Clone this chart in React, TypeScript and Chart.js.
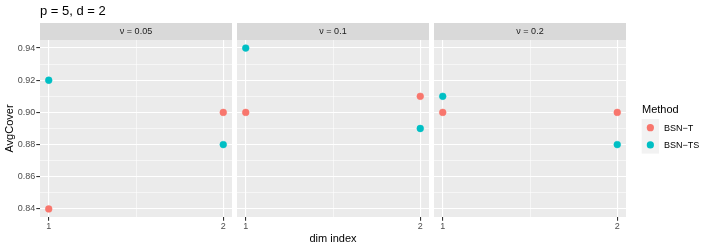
import React, { useEffect, useRef } from 'react';
import { Chart, registerables } from 'chart.js';

Chart.register(...registerables);

// ---- data ----
const DIM_INDEX = [1, 2];
const FACET_LABELS = ['ν = 0.05', 'ν = 0.1', 'ν = 0.2'];
const SERIES_NAMES = ['BSN−T', 'BSN−TS'];
const BSN_T_V005 = [0.84, 0.9];
const BSN_TS_V005 = [0.92, 0.88];
const BSN_T_V01 = [0.9, 0.91];
const BSN_TS_V01 = [0.94, 0.89];
const BSN_T_V02 = [0.9, 0.9];
const BSN_TS_V02 = [0.91, 0.88];
const Y_MAJOR_TICKS = [0.84, 0.86, 0.88, 0.9, 0.92, 0.94];
const Y_MINOR_TICKS = [0.85, 0.87, 0.89, 0.91, 0.93];
const X_MAJOR_TICKS = [1, 2];
const X_MINOR_TICKS = [1.5];

// ---- style ----
const FONT = "'Liberation Sans', Arial, Helvetica, sans-serif";
const COLORS = ['#F8766D', '#00BFC4'];
const PANEL_BG = '#EBEBEB';
const STRIP_BG = '#D9D9D9';
const W = 710;
const H = 249;
const PANEL_LEFTS = [40, 237, 434];
const PANEL_W = 192;
const PANEL_TOP = 40;
const PANEL_BOTTOM = 217;
const STRIP_TOP = 23;

const FACET_T = [BSN_T_V005, BSN_T_V01, BSN_T_V02];
const FACET_TS = [BSN_TS_V005, BSN_TS_V01, BSN_TS_V02];

const isIn = (arr: number[], v: number) => arr.some((a) => Math.abs(a - v) < 1e-9);

function makeConfig(i: number): any {
  const left = PANEL_LEFTS[i];
  const right = W - (left + PANEL_W);
  const first = i === 0;
  const last = i === PANEL_LEFTS.length - 1;

  const panelPlugin = {
    id: 'panel' + i,
    beforeDraw(chart: any) {
      const { ctx, chartArea } = chart;
      ctx.save();
      ctx.fillStyle = PANEL_BG;
      ctx.fillRect(chartArea.left, chartArea.top, chartArea.right - chartArea.left, chartArea.bottom - chartArea.top);
      ctx.restore();
    },
    afterDraw(chart: any) {
      const { ctx, chartArea } = chart;
      ctx.save();
      // strip
      ctx.fillStyle = STRIP_BG;
      ctx.fillRect(chartArea.left, STRIP_TOP, chartArea.right - chartArea.left, chartArea.top - STRIP_TOP);
      ctx.fillStyle = '#1A1A1A';
      ctx.font = `9px ${FONT}`;
      ctx.textAlign = 'center';
      ctx.textBaseline = 'middle';
      ctx.fillText(FACET_LABELS[i], (chartArea.left + chartArea.right) / 2, (STRIP_TOP + chartArea.top) / 2 + 0.5);

      if (first) {
        // title
        ctx.fillStyle = '#000';
        ctx.font = `13px ${FONT}`;
        ctx.textAlign = 'left';
        ctx.textBaseline = 'alphabetic';
        ctx.fillText('p = 5, d = 2', 40, 15);
        // y title
        ctx.font = `11px ${FONT}`;
        ctx.save();
        ctx.translate(10, (PANEL_TOP + PANEL_BOTTOM) / 2);
        ctx.rotate(-Math.PI / 2);
        ctx.textAlign = 'center';
        ctx.textBaseline = 'middle';
        ctx.fillText('AvgCover', 0, 0);
        ctx.restore();
        // x title
        ctx.textAlign = 'center';
        ctx.textBaseline = 'alphabetic';
        ctx.fillText('dim index', (PANEL_LEFTS[0] + PANEL_LEFTS[2] + PANEL_W) / 2, 241.5);
      }
      if (last) {
        // legend
        ctx.fillStyle = '#000';
        ctx.font = `11px ${FONT}`;
        ctx.textAlign = 'left';
        ctx.textBaseline = 'alphabetic';
        ctx.fillText('Method', 642, 113);
        const keyX = 641.7;
        const keyY = 119;
        const keyS = 17.3;
        ctx.fillStyle = '#F2F2F2';
        ctx.fillRect(keyX, keyY, keyS, keyS * SERIES_NAMES.length);
        SERIES_NAMES.forEach((name, k) => {
          const cy = keyY + keyS * k + keyS / 2;
          ctx.fillStyle = COLORS[k];
          ctx.beginPath();
          ctx.arc(keyX + keyS / 2, cy, 3.6, 0, Math.PI * 2);
          ctx.fill();
          ctx.fillStyle = '#000';
          ctx.font = `9px ${FONT}`;
          ctx.textBaseline = 'middle';
          ctx.fillText(name, 664, cy + 0.5);
        });
      }
      ctx.restore();
    },
  };

  const yTicks = [...Y_MAJOR_TICKS, ...Y_MINOR_TICKS].sort((a, b) => a - b);
  const xTicks = [...X_MAJOR_TICKS, ...X_MINOR_TICKS].sort((a, b) => a - b);

  return {
    type: 'scatter',
    data: {
      datasets: [FACET_T[i], FACET_TS[i]].map((vals, k) => ({
        label: SERIES_NAMES[k],
        data: DIM_INDEX.map((d, j) => ({ x: d, y: vals[j] })),
        backgroundColor: COLORS[k],
        borderColor: COLORS[k],
        pointRadius: 3.4,
        pointBorderWidth: 0.5,
        pointHoverRadius: 3.4,
      })),
    },
    options: {
      animation: false,
      responsive: false,
      events: [],
      layout: { padding: { left: first ? 0 : left, right, top: PANEL_TOP, bottom: 0 } },
      plugins: { legend: { display: false }, tooltip: { enabled: false }, title: { display: false } },
      scales: {
        x: {
          type: 'linear',
          min: 0.95,
          max: 2.05,
          afterBuildTicks: (s: any) => {
            s.ticks = xTicks.map((v) => ({ value: v }));
          },
          afterFit: (s: any) => {
            s.height = H - PANEL_BOTTOM;
          },
          border: { display: false },
          grid: {
            color: '#FFFFFF',
            lineWidth: (c: any) => (c.tick && isIn(X_MAJOR_TICKS, c.tick.value) ? 1.1 : 0.55),
            drawTicks: true,
            tickLength: 3.7,
            tickWidth: 1.1,
            tickColor: (c: any) => (c.tick && isIn(X_MAJOR_TICKS, c.tick.value) ? '#333333' : 'rgba(0,0,0,0)'),
          },
          ticks: {
            autoSkip: false,
            maxRotation: 0,
            padding: 0.5,
            color: '#4D4D4D',
            font: { size: 9, family: FONT },
            callback: (v: number) => (isIn(X_MAJOR_TICKS, v) ? String(v) : ''),
          },
        },
        y: {
          type: 'linear',
          min: 0.835,
          max: 0.945,
          afterBuildTicks: (s: any) => {
            s.ticks = yTicks.map((v) => ({ value: v }));
          },
          afterFit: (s: any) => {
            s.width = first ? PANEL_LEFTS[0] : 0;
          },
          border: { display: false },
          grid: {
            color: '#FFFFFF',
            lineWidth: (c: any) => (c.tick && isIn(Y_MAJOR_TICKS, c.tick.value) ? 1.1 : 0.55),
            drawTicks: first,
            tickLength: 3.7,
            tickWidth: 1.1,
            tickColor: (c: any) => (c.tick && isIn(Y_MAJOR_TICKS, c.tick.value) ? '#333333' : 'rgba(0,0,0,0)'),
          },
          ticks: {
            display: first,
            autoSkip: false,
            padding: 1,
            color: '#4D4D4D',
            font: { size: 9, family: FONT },
            callback: (v: number) => (isIn(Y_MAJOR_TICKS, v) ? v.toFixed(2) : ''),
          },
        },
      },
    },
    plugins: [panelPlugin],
  };
}

export default function App() {
  const r0 = useRef<HTMLCanvasElement>(null);
  const r1 = useRef<HTMLCanvasElement>(null);
  const r2 = useRef<HTMLCanvasElement>(null);
  const refs = [r0, r1, r2];

  useEffect(() => {
    const charts = refs.map((r, i) => new Chart(r.current as HTMLCanvasElement, makeConfig(i)));
    return () => charts.forEach((c) => c.destroy());
  }, []);

  return (
    <div style={{ position: 'absolute', left: 0, top: 0, width: W, height: H, background: '#FFFFFF' }}>
      {refs.map((r, i) => (
        <canvas
          key={i}
          ref={r}
          width={W}
          height={H}
          style={{ position: 'absolute', left: 0, top: 0, width: W, height: H }}
        />
      ))}
    </div>
  );
}
